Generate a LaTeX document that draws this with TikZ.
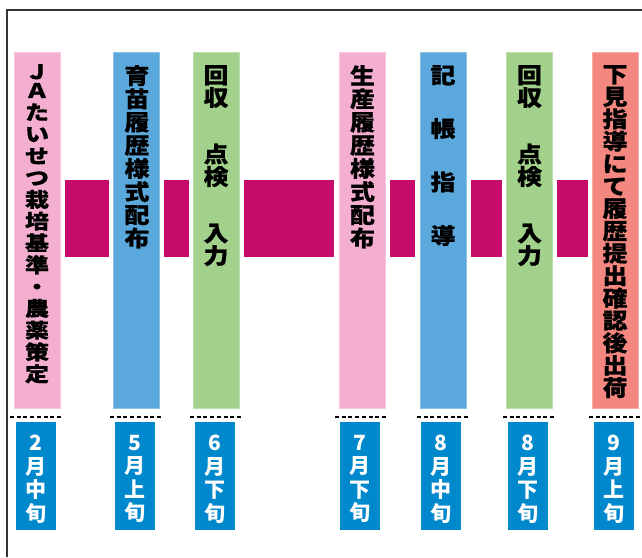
\documentclass[tikz,border=0pt]{standalone}
\usepackage{fontspec}
\newfontfamily\cjk{Noto Sans CJK JP}[FakeStretch=1.13, BoldFeatures={FakeBold=0.6}]
\newfontfamily\cjkwide{Noto Sans CJK JP}[FakeStretch=1.2, BoldFeatures={FakeBold=0.6}]
\newfontfamily\cjkdate{Noto Sans CJK JP}
\definecolor{pinkC}{HTML}{F4AFD0}
\definecolor{blueC}{HTML}{5BA8DC}
\definecolor{greenC}{HTML}{A1D18B}
\definecolor{redC}{HTML}{F4877F}
\definecolor{magC}{HTML}{C70B6B}
\definecolor{dateC}{HTML}{0088CC}
\definecolor{frameC}{HTML}{333333}
\tikzset{
  bar/.style={minimum width=46pt, minimum height=356pt, inner sep=0pt, outer sep=0pt},
  lbl/.style={font=\cjk\bfseries\fontsize{22}{22.4}\selectfont, align=center, inner sep=0pt, anchor=north},
  datebox/.style={fill=dateC, minimum width=40pt, minimum height=108pt, inner sep=0pt, outer sep=0pt},
  dlbl/.style={text=white, font=\cjkdate\bfseries\fontsize{21}{23.5}\selectfont, align=center, inner sep=0pt, anchor=north},
  link/.style={fill=magC},
  dots/.style={dash pattern=on 4pt off 2.7pt, line width=2.5pt, black},
  frame/.style={draw=frameC, line width=1.2pt}
}
\begin{document}
\begin{tikzpicture}[x=1pt,y=-1pt]
\useasboundingbox (0,0) rectangle (642,557);
\draw[frame] (7,557) -- (7,10) -- (642,10);

% bars
\node[bar, fill=pinkC, draw=pinkC!70!white, line width=0.6pt]  (b1) at (37,230) {};
\node[bar, fill=blueC, draw=blueC!70!white, line width=0.6pt]  (b2) at (136.5,230) {};
\node[bar, fill=greenC, draw=greenC!70!white, line width=0.6pt] (b3) at (216,230) {};
\node[bar, fill=pinkC, draw=pinkC!70!white, line width=0.6pt]  (b4) at (362,230) {};
\node[bar, fill=blueC, draw=blueC!70!white, line width=0.6pt]  (b5) at (443,230) {};
\node[bar, fill=greenC, draw=greenC!70!white, line width=0.6pt] (b6) at (529.5,230) {};
\node[bar, fill=redC, draw=redC!70!white, line width=0.6pt]   (b7) at (615.5,230) {};

% links
\fill[link] (65,180) rectangle (109,257);
\fill[link] (164,180) rectangle (189,257);
\fill[link] (244,180) rectangle (334,257);
\fill[link] (390,180) rectangle (415,257);
\fill[link] (471,180) rectangle (502,257);
\fill[link] (557,180) rectangle (588,257);

% bar labels
\node[lbl, font=\cjkwide\bfseries\fontsize{20}{21.8}\selectfont] (t1) at (37,64)
  {Ｊ\\[-3pt]Ａ\\た\\い\\せ\\つ\\栽\\培\\基\\準\\・\\農\\薬\\策\\定};
\node[lbl, font=\cjk\bfseries\fontsize{22}{23.2}\selectfont] (t2) at (137,65)
  {育\\苗\\履\\歴\\様\\式\\配\\布};
\node[lbl, font=\cjk\bfseries\fontsize{22}{22.5}\selectfont] (t3) at (216,65)
  {回\\収\\[34pt]点\\検\\[34pt]入\\力};
\node[lbl, font=\cjk\bfseries\fontsize{22}{23.2}\selectfont] (t4) at (362.5,65)
  {生\\産\\履\\歴\\様\\式\\配\\布};
\node[lbl, font=\cjk\bfseries\fontsize{22}{53.5}\selectfont] (t5) at (443,65)
  {記\\帳\\指\\導};
\node[lbl, font=\cjk\bfseries\fontsize{22}{22.5}\selectfont] (t6) at (529.5,65)
  {回\\収\\[34pt]点\\検\\[34pt]入\\力};
\node[lbl] (t7) at (615,65)
  {下\\見\\指\\導\\に\\て\\履\\歴\\提\\出\\確\\認\\後\\出\\荷};

% dotted lines
\draw[dots] (10,417) -- (63,417);
\draw[dots] (110,417) -- (163,417);
\draw[dots] (190,417) -- (243,417);
\draw[dots] (335,417) -- (388,417);
\draw[dots] (417,417) -- (469,417);
\draw[dots] (503,417) -- (556,417);
\draw[dots] (589,417) -- (643,417);

% date boxes
\node[datebox] (d1) at (36,476) {};
\node[datebox] (d2) at (135,476) {};
\node[datebox] (d3) at (215,476) {};
\node[datebox] (d4) at (360,476) {};
\node[datebox] (d5) at (441,476) {};
\node[datebox] (d6) at (528,476) {};
\node[datebox] (d7) at (614,476) {};

\node[dlbl] (e1) at (36,435) {2\\月\\中\\旬};
\node[dlbl] (e2) at (135,435) {5\\月\\上\\旬};
\node[dlbl] (e3) at (215,435) {6\\月\\下\\旬};
\node[dlbl] (e4) at (360,435) {7\\月\\下\\旬};
\node[dlbl] (e5) at (441,435) {8\\月\\中\\旬};
\node[dlbl] (e6) at (528,435) {8\\月\\下\\旬};
\node[dlbl] (e7) at (614,435) {9\\月\\上\\旬};
\end{tikzpicture}
\end{document}
